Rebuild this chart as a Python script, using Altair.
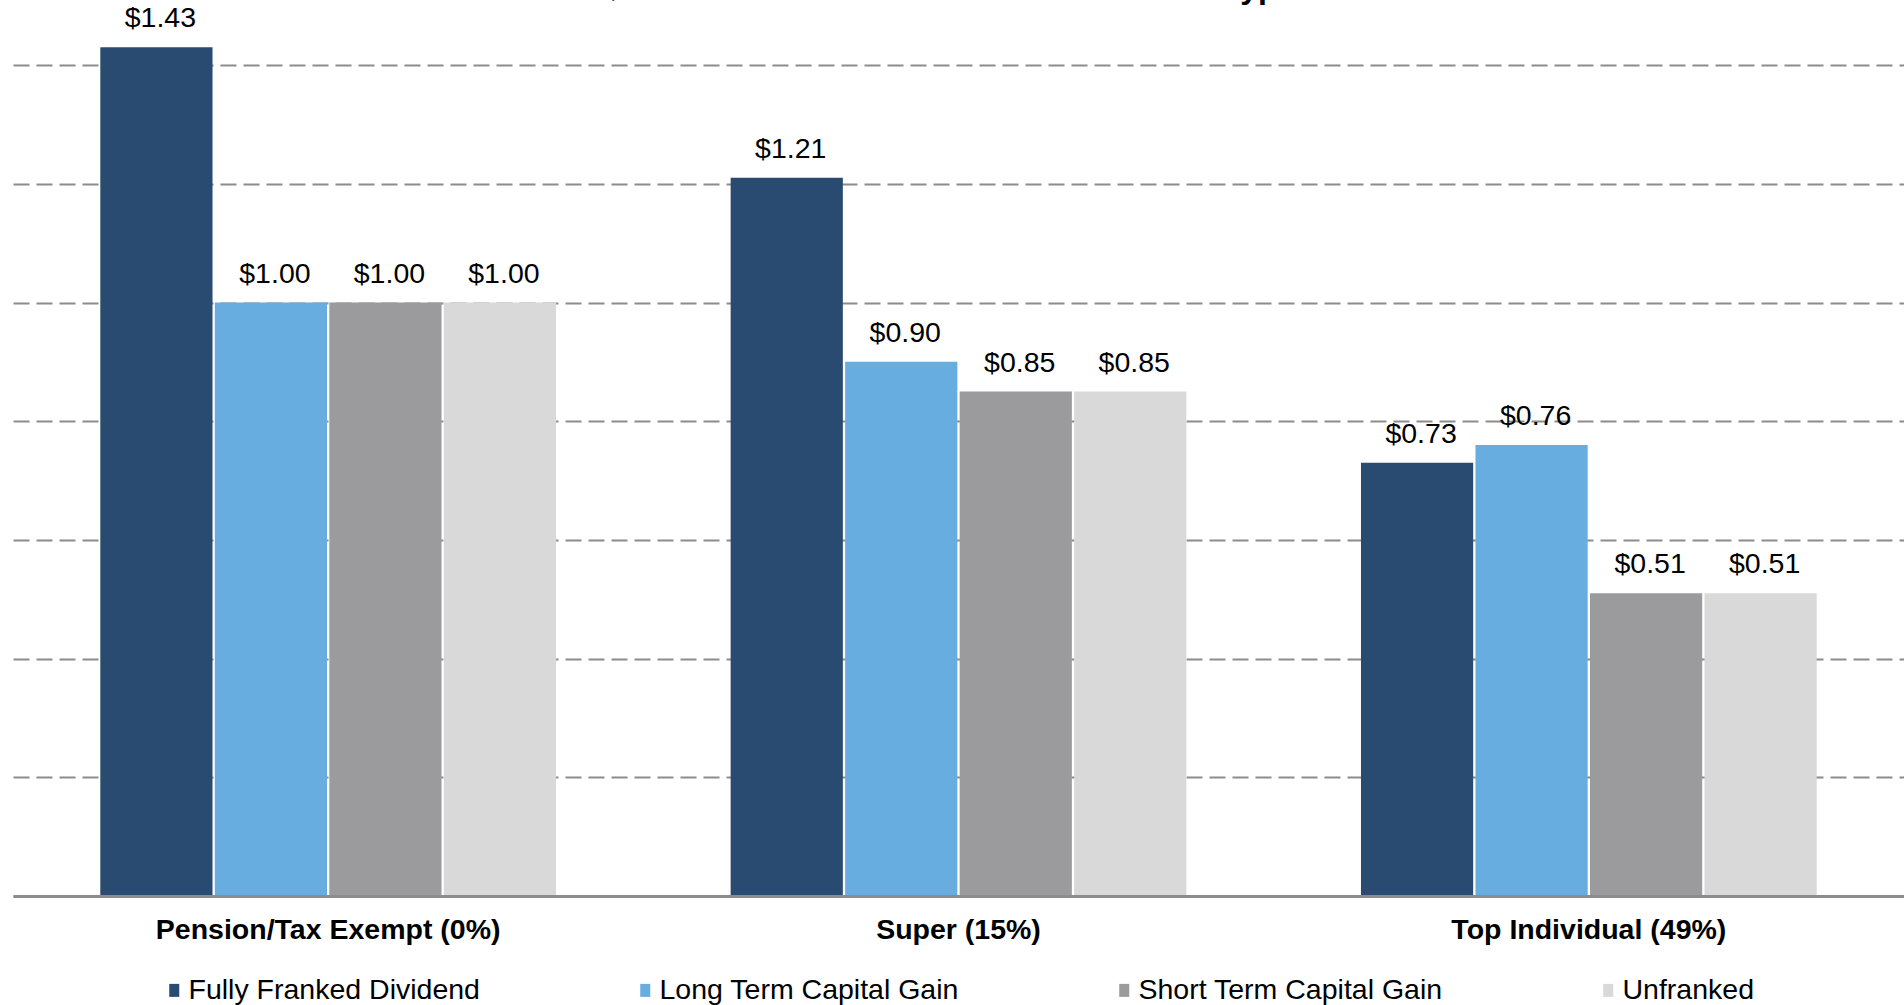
import altair as alt
import pandas as pd

# Investor groups (x axis) and return types (bars within each group)
groups = ["Pension/Tax Exempt (0%)", "Super (15%)", "Top Individual (49%)"]
return_types = [
    "Fully Franked Dividend",
    "Long Term Capital Gain",
    "Short Term Capital Gain",
    "Unfranked",
]

# After-tax value of $1.00 for each return type, per investor group
pension_values = [1.43, 1.00, 1.00, 1.00]
super_values = [1.21, 0.90, 0.85, 0.85]
top_individual_values = [0.73, 0.76, 0.51, 0.51]

colors = ["#2A4B71", "#68ADE0", "#9B9B9D", "#D9D9D9"]
grid_values = [0.0, 0.2, 0.4, 0.6, 0.8, 1.0, 1.2, 1.4]

title_text = (
    "After-tax Value of $1.00 of Investment Income for Different Types "
    "of Australian Resident Investors"
)

rows = []
for group, vals in zip(groups, [pension_values, super_values, top_individual_values]):
    for rtype, v in zip(return_types, vals):
        rows.append({"group": group, "type": rtype, "value": v})
df = pd.DataFrame(rows)

FONT = "Liberation Sans"

x_enc = alt.X(
    "group:N",
    sort=groups,
    scale=alt.Scale(paddingInner=0.277, paddingOuter=0.1385),
    axis=alt.Axis(
        title=None,
        labelFont=FONT,
        labelFontSize=28.5,
        labelFontWeight="bold",
        labelColor="#000000",
        labelBaseline="alphabetic",
        labelPadding=42,
        labelAngle=0,
        labelLimit=800,
        ticks=False,
        tickSize=0,
        domainColor="#8C8C8C",
        domainWidth=3,
        zindex=1,
    ),
)
xoff_enc = alt.XOffset(
    "type:N",
    sort=return_types,
    scale=alt.Scale(paddingInner=0.02, paddingOuter=0),
)
y_enc = alt.Y(
    "value:Q",
    scale=alt.Scale(domain=[0, 1.5097], nice=False),
    axis=alt.Axis(
        title=None,
        labels=False,
        ticks=False,
        domain=False,
        values=grid_values,
        grid=True,
        gridColor="#8C8C8C",
        gridWidth=2,
        gridDash=[16, 7],
        zindex=0,
    ),
)

base = alt.Chart(df).encode(x=x_enc, xOffset=xoff_enc, y=y_enc)

bars = base.mark_bar().encode(
    color=alt.Color(
        "type:N",
        sort=return_types,
        scale=alt.Scale(domain=return_types, range=colors),
        legend=alt.Legend(
            title=None,
            orient="none",
            legendX=147,
            legendY=976,
            direction="horizontal",
            columns=4,
            columnPadding=151,
            symbolType="M-0.77,-1H0.77V1H-0.77Z",
            symbolSize=169,
            symbolStrokeWidth=0,
            labelFont=FONT,
            labelFontSize=28.5,
            labelColor="#000000",
            labelOffset=0,
            labelLimit=600,
        ),
    )
)

labels = base.mark_text(
    font=FONT,
    fontSize=28.5,
    color="#000000",
    baseline="alphabetic",
    dx=4,
    dy=-20,
).encode(text=alt.Text("value:Q", format="$.2f"))

title_mark = (
    alt.Chart(pd.DataFrame({"title": [title_text]}))
    .mark_text(
        font=FONT,
        fontSize=32,
        fontWeight="bold",
        color="#000000",
        baseline="alphabetic",
        align="center",
    )
    .encode(text="title:N", x=alt.value(1059), y=alt.value(-2.5))
)

chart = (
    alt.layer(bars, labels, title_mark)
    .properties(
        width=1891,
        height=896,
        autosize=alt.AutoSizeParams(type="none"),
        padding={"left": 13, "top": 0, "right": 0, "bottom": 109},
        background="#FFFFFF",
    )
    .configure_view(strokeWidth=0)
)

chart.save("out.html", embed_options={"renderer": "svg", "actions": False})
